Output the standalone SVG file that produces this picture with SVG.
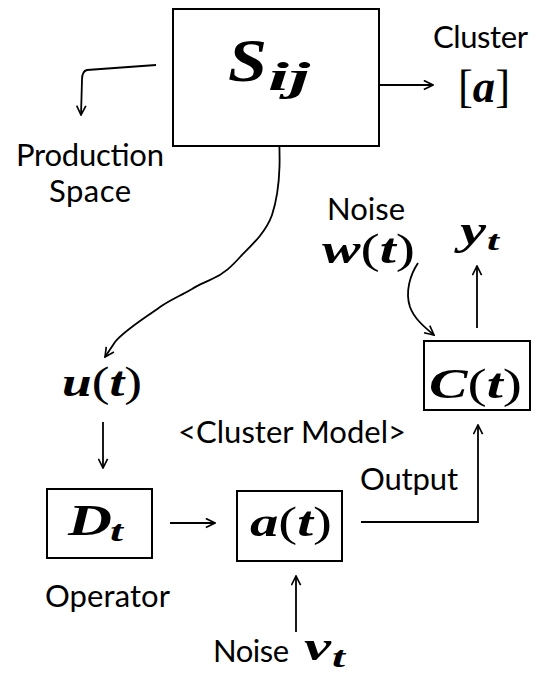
<svg xmlns="http://www.w3.org/2000/svg" width="546" height="676" viewBox="0 0 546 676">
<defs>
<style>
.box{fill:#fff;stroke:#000;stroke-width:2}
.ln{fill:none;stroke:#000;stroke-width:1.8}
.lbl{font-family:Lato,"Open Sans","Liberation Sans",sans-serif;font-size:31px;fill:#000}
.m{font-family:"Liberation Serif","DejaVu Serif",serif;font-style:italic;font-weight:bold;fill:#000}
.p{font-style:normal;font-weight:normal}
</style>
<marker id="ah" viewBox="0 0 12 12" refX="11" refY="6" markerWidth="11" markerHeight="11" markerUnits="userSpaceOnUse" orient="auto">
<path d="M1,1 L11,6 L1,11" fill="none" stroke="#000" stroke-width="1.8"/>
</marker>
</defs>
<rect width="546" height="676" fill="#fff"/>
<g id="connectors">
<path class="ln" d="M156,65 L87,70 Q82,71 82,80 L81,115" marker-end="url(#ah)"/>
<path class="ln" d="M330,85 L433,85" marker-end="url(#ah)"/>
<path class="ln" d="M278,113 C280,150 282,185 272,215 C266,232 252,245 241,256 C232,266 224,274 212,279 C204,283 198,285 192,289 C180,296 170,300 160,307 C145,318 125,330 115,342 L105,357" marker-end="url(#ah)"/>
<path class="ln" d="M103,422 L103,468" marker-end="url(#ah)"/>
<path class="ln" d="M170,523 L215,523" marker-end="url(#ah)"/>
<path class="ln" d="M361,522 L478,522 L478,425" marker-end="url(#ah)"/>
<path class="ln" d="M296,632 L296,576" marker-end="url(#ah)"/>
<path class="ln" d="M477,328 L477,266" marker-end="url(#ah)"/>
<path class="ln" d="M418,263 C410,275 405,292 410,307 C414,318 423,326 434,335" marker-end="url(#ah)"/>
</g>
<g id="node-sij">
<rect class="box" x="173" y="9" width="206" height="137"/>
<text class="m" x="228" y="81" font-size="62" textLength="39" lengthAdjust="spacingAndGlyphs">S</text>
<text class="m" x="268" y="90" font-size="40" textLength="42" lengthAdjust="spacingAndGlyphs">ij</text>
</g>
<g id="node-cluster">
<text class="lbl" x="433" y="48" textLength="95">Cluster</text>
<text class="m" x="458" y="102" font-size="46" textLength="52" lengthAdjust="spacingAndGlyphs"><tspan class="p">[</tspan>a<tspan class="p">]</tspan></text>
</g>
<g id="node-production">
<text class="lbl" x="16" y="166" font-size="29" textLength="148">Production</text>
<text class="lbl" x="49" y="202" font-size="29" textLength="82">Space</text>
</g>
<g id="node-noise-w">
<text class="lbl" x="327" y="220">Noise</text>
<text class="m" x="322" y="263" font-size="42" textLength="93" lengthAdjust="spacingAndGlyphs">w<tspan class="p">(</tspan>t<tspan class="p">)</tspan></text>
</g>
<g id="node-yt">
<text class="m" x="460" y="244" font-size="42" textLength="26" lengthAdjust="spacingAndGlyphs">y</text>
<text class="m" x="487" y="250" font-size="28" textLength="12" lengthAdjust="spacingAndGlyphs">t</text>
</g>
<g id="node-ut">
<text class="m" x="62" y="396" font-size="42" textLength="80" lengthAdjust="spacingAndGlyphs">u<tspan class="p">(</tspan>t<tspan class="p">)</tspan></text>
</g>
<g id="node-ct">
<rect class="box" x="424" y="341" width="106" height="69"/>
<text class="m" x="429" y="398" font-size="42" textLength="93" lengthAdjust="spacingAndGlyphs">C<tspan class="p">(</tspan>t<tspan class="p">)</tspan></text>
</g>
<g id="node-model">
<text class="lbl" x="178" y="443" textLength="228">&lt;Cluster Model&gt;</text>
</g>
<g id="node-output">
<text class="lbl" x="360" y="490" textLength="98">Output</text>
</g>
<g id="node-dt">
<rect class="box" x="47" y="489" width="105" height="69"/>
<text class="m" x="68" y="535" font-size="44" textLength="44" lengthAdjust="spacingAndGlyphs">D</text>
<text class="m" x="110" y="541" font-size="30" textLength="13" lengthAdjust="spacingAndGlyphs">t</text>
</g>
<g id="node-at">
<rect class="box" x="237" y="491" width="105" height="70"/>
<text class="m" x="250" y="536" font-size="42" textLength="82" lengthAdjust="spacingAndGlyphs">a<tspan class="p">(</tspan>t<tspan class="p">)</tspan></text>
</g>
<g id="node-operator">
<text class="lbl" x="45" y="607" textLength="125">Operator</text>
</g>
<g id="node-noise-v">
<text class="lbl" x="213" y="662" textLength="76">Noise</text>
<text class="m" x="304" y="660" font-size="42" textLength="27" lengthAdjust="spacingAndGlyphs">v</text>
<text class="m" x="332" y="667" font-size="30" textLength="13" lengthAdjust="spacingAndGlyphs">t</text>
</g>
</svg>
